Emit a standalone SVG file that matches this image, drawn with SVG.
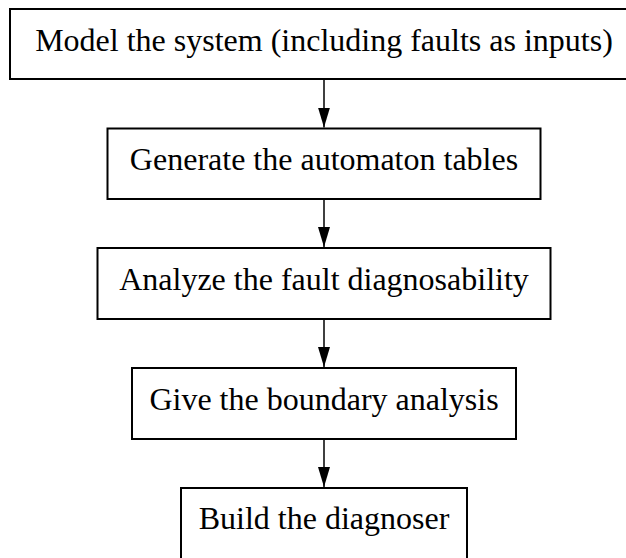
<svg xmlns="http://www.w3.org/2000/svg" width="626" height="558" viewBox="0 0 626 558">
<style>
.box{fill:#fff;stroke:#000;stroke-width:2}
.lbl{font-family:"Liberation Serif","Times New Roman",serif;font-size:32px;fill:#000;text-anchor:middle}
.edge{stroke:#000;stroke-width:1.5;fill:none}
</style>
<defs>
<marker id="ah" markerUnits="userSpaceOnUse" markerWidth="20" markerHeight="12" refX="20" refY="6" orient="auto">
<polygon points="0,0 20,6 0,12" fill="#000"/>
</marker>
</defs>
<rect width="626" height="558" fill="#fff"/>
<g id="edges">
<line class="edge" x1="324" y1="79" x2="324" y2="127.5" marker-end="url(#ah)"/>
<line class="edge" x1="324" y1="199" x2="324" y2="247" marker-end="url(#ah)"/>
<line class="edge" x1="324" y1="319" x2="324" y2="367" marker-end="url(#ah)"/>
<line class="edge" x1="324" y1="439" x2="324" y2="487" marker-end="url(#ah)"/>
</g>
<g id="n1">
<rect class="box" x="10" y="9" width="628" height="70"/>
<text class="lbl" x="324" y="51">Model the system (including faults as inputs)</text>
</g>
<g id="n2">
<rect class="box" x="107.5" y="128.5" width="433" height="70.5"/>
<text class="lbl" x="324" y="170">Generate the automaton tables</text>
</g>
<g id="n3">
<rect class="box" x="97.5" y="248" width="453" height="71"/>
<text class="lbl" x="324" y="290">Analyze the fault diagnosability</text>
</g>
<g id="n4">
<rect class="box" x="132" y="368" width="384" height="71"/>
<text class="lbl" x="324" y="410">Give the boundary analysis</text>
</g>
<g id="n5">
<rect class="box" x="181" y="488" width="286" height="72"/>
<text class="lbl" x="324" y="529">Build the diagnoser</text>
</g>
</svg>
